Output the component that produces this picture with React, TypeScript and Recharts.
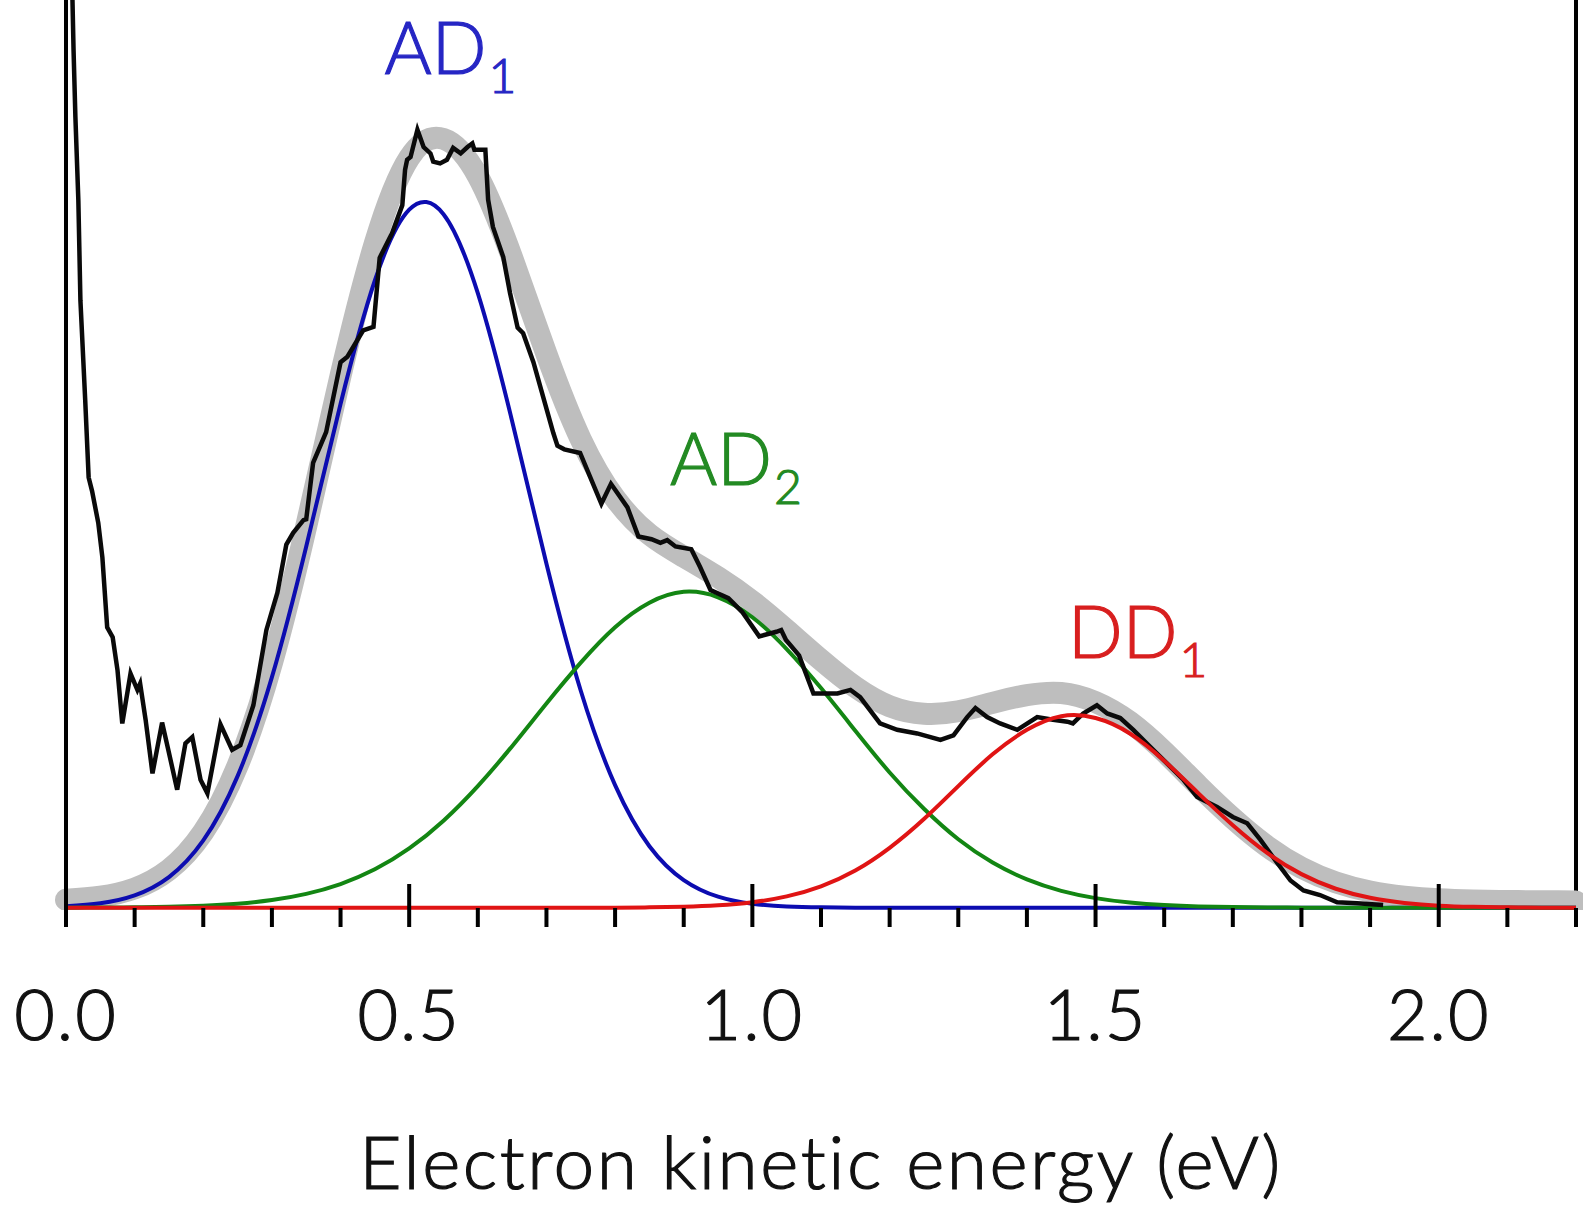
import { Line, LineChart, ReferenceDot, ReferenceLine, XAxis, YAxis } from "recharts";

// fit grid, eV
const fitEnergy = [
  0, 0.05, 0.1, 0.15, 0.2, 0.25, 0.3, 0.35, 0.4, 0.45, 0.5, 0.55, 0.6, 0.65, 0.7,
  0.75, 0.8, 0.85, 0.9, 0.95, 1.0, 1.05, 1.1, 1.15, 1.2, 1.25, 1.3, 1.35, 1.4, 1.45,
  1.5, 1.55, 1.6, 1.65, 1.7, 1.75, 1.8, 1.85, 1.9, 1.95, 2.0, 2.05, 2.1, 2.15, 2.2,
];

const ad1Fit = [
  0.16, 0.5, 1.37, 3.38, 7.41, 14.5, 25.4, 39.8, 55.5, 69.1, 76.9, 76.4, 67.7, 53.6, 37.9,
  23.9, 13.5, 6.78, 3.05, 1.22, 0.44, 0.14, 0.04, 0.01, 0, 0, 0, 0, 0, 0,
  0, 0, 0, 0, 0, 0, 0, 0, 0, 0, 0, 0, 0, 0, 0,
];

const ad2Fit = [
  0.01, 0.02, 0.05, 0.11, 0.23, 0.45, 0.85, 1.53, 2.61, 4.23, 6.53, 9.59, 13.4, 17.8, 22.5,
  27.0, 30.9, 33.6, 34.8, 34.2, 32.0, 28.5, 24.2, 19.5, 14.9, 10.9, 7.54, 4.98, 3.12, 1.86,
  1.06, 0.57, 0.29, 0.14, 0.07, 0.03, 0.01, 0, 0, 0, 0, 0, 0, 0, 0,
];

const dd1Fit = [
  0, 0, 0, 0, 0, 0, 0, 0, 0, 0, 0, 0, 0, 0, 0,
  0, 0, 0.04, 0.12, 0.28, 0.61, 1.25, 2.36, 4.1, 6.6, 9.77, 13.4, 16.9, 19.6, 21.1,
  20.9, 19.2, 16.2, 12.6, 9.09, 6.04, 3.7, 2.09, 1.09, 0.53, 0.23, 0.1, 0.04, 0.01, 0,
];

const totalFit = [
  0.87, 1.22, 2.12, 4.19, 8.34, 15.65, 26.95, 42.03, 58.6, 73.2, 82.6, 84.7, 80.6, 71.6, 61.0,
  51.6, 45.1, 41.12, 38.67, 36.4, 33.75, 30.59, 27.3, 24.31, 22.2, 21.37, 21.64, 22.58, 23.42, 23.66,
  22.66, 20.47, 17.19, 13.44, 9.86, 6.77, 4.41, 2.79, 1.79, 1.23, 0.93, 0.8, 0.74, 0.71, 0.7,
];

// measured spectrum
const sigEnergy = [
  0.004, 0.008, 0.011, 0.0137, 0.018, 0.021, 0.028, 0.033, 0.038, 0.047, 0.053, 0.06, 0.068, 0.075, 0.082,
  0.094, 0.104, 0.108, 0.116, 0.126, 0.14, 0.149, 0.162, 0.174, 0.184, 0.196, 0.206, 0.225, 0.242, 0.254,
  0.273, 0.292, 0.308, 0.321, 0.331, 0.346, 0.35, 0.36, 0.379, 0.4, 0.41, 0.433, 0.448, 0.457, 0.475,
  0.49, 0.494, 0.497, 0.502, 0.512, 0.521, 0.531, 0.535, 0.545, 0.555, 0.564, 0.575, 0.585, 0.592, 0.595,
  0.611, 0.615, 0.622, 0.637, 0.647, 0.658, 0.666, 0.681, 0.71, 0.716, 0.726, 0.749, 0.78, 0.794, 0.818,
  0.834, 0.853, 0.866, 0.876, 0.888, 0.911, 0.924, 0.939, 0.965, 0.985, 1.01, 1.035, 1.042, 1.049, 1.068,
  1.089, 1.124, 1.143, 1.157, 1.186, 1.211, 1.24, 1.274, 1.293, 1.313, 1.325, 1.342, 1.361, 1.386, 1.415,
  1.438, 1.459, 1.467, 1.482, 1.502, 1.517, 1.536, 1.555, 1.58, 1.604, 1.628, 1.648, 1.677, 1.7, 1.721,
  1.74, 1.765, 1.784, 1.803, 1.827, 1.852, 1.881, 1.919,
];

const sigCounts = [
  105, 105, 94.5, 87.1, 77.9, 66.9, 55.9, 47.4, 45.9, 42.4, 38.6, 30.9, 29.8, 26.2, 20.3,
  25.8, 24.0, 24.7, 20.7, 14.8, 20.4, 17.4, 13.0, 18.1, 18.8, 14.1, 12.6, 20.2, 17.4, 17.9,
  22.3, 30.6, 34.7, 40.0, 41.3, 42.7, 42.8, 49.0, 52.4, 60.1, 60.7, 63.6, 64.0, 71.6, 74.3,
  77.4, 81.3, 82.4, 82.7, 85.7, 83.8, 83.1, 82.2, 82.0, 82.4, 83.7, 83.1, 83.8, 84.2, 83.5,
  83.5, 78.0, 75.0, 71.7, 67.7, 63.9, 63.3, 60.1, 52.3, 50.9, 50.5, 50.1, 44.5, 46.7, 44.1,
  40.9, 40.6, 40.2, 40.5, 39.8, 39.5, 37.5, 35.0, 34.1, 32.6, 29.9, 30.4, 30.6, 29.5, 27.8,
  23.6, 23.6, 24.0, 23.2, 20.3, 19.6, 19.2, 18.5, 19.0, 21.0, 22.0, 21.0, 20.3, 19.6, 21.0,
  20.7, 20.5, 20.3, 21.4, 22.3, 21.4, 20.9, 19.6, 17.7, 15.9, 14.1, 12.2, 11.1, 10.0, 9.3,
  7.5, 4.9, 3.0, 1.9, 1.4, 0.6, 0.5, 0.3,
];

const xTicks = [
  0, 0.1, 0.2, 0.3, 0.4, 0.5, 0.6, 0.7, 0.8, 0.9, 1.0, 1.1,
  1.2, 1.3, 1.4, 1.5, 1.6, 1.7, 1.8, 1.9, 2.0, 2.1, 2.2,
];
const majorTicks = [0, 0.5, 1.0, 1.5, 2.0];

const peakLabels = [
  { name: "AD", sub: "1", x: 0.464, y: 91.8, color: "#2626c4" },
  { name: "AD", sub: "2", x: 0.88, y: 46.6, color: "#238a23" },
  { name: "DD", sub: "1", x: 1.46, y: 27.5, color: "#d81f1f" },
];

const fitRows = fitEnergy.map((x, i) => ({
  x,
  ad1: ad1Fit[i],
  ad2: ad2Fit[i],
  dd1: dd1Fit[i],
  total: totalFit[i],
}));
const sigRows = sigEnergy.map((x, i) => ({ x, counts: sigCounts[i] }));

const FONT = "Lato, 'Open Sans', sans-serif";

function EnergyTick({ x, y, payload }: any) {
  const v = payload.value;
  const major = majorTicks.some((m) => Math.abs(m - v) < 1e-6);
  return (
    <g>
      <line
        x1={x}
        x2={x}
        y1={major ? y - 26 : y - 2}
        y2={y + 17}
        stroke="#000"
        strokeWidth={4}
      />
      {major && (
        <text
          x={x}
          y={y + 130}
          textAnchor="middle"
          fontFamily={FONT}
          fontWeight={300}
          fontSize={70}
          letterSpacing={2}
          fill="#111"
          stroke="#111"
          strokeWidth={1.2}
        >
          {v.toFixed(1)}
        </text>
      )}
    </g>
  );
}

function PeakLabel({ cx, cy, label }: any) {
  return (
    <text
      x={cx}
      y={cy}
      fontFamily={FONT}
      fontWeight={300}
      fontSize={72}
      fill={label.color}
      stroke={label.color}
      strokeWidth={1.2}
    >
      {label.name}
      <tspan fontSize={48} dy={19} dx={2}>
        {label.sub}
      </tspan>
    </text>
  );
}

export default function App() {
  return (
    <div style={{ position: "absolute", left: 0, top: 0, background: "#fff" }}>
      <LineChart width={1583} height={1206} margin={{ top: 0, right: 7, bottom: 0, left: 66 }}>
        <XAxis
          dataKey="x"
          type="number"
          domain={[0, 2.2]}
          ticks={xTicks}
          interval={0}
          axisLine={false}
          tickLine={false}
          tickSize={0}
          tickMargin={0}
          height={296}
          tick={<EnergyTick />}
          label={{
            content: (props: any) => {
              const vb = props.viewBox;
              return (
                <text
                  x={vb.x + vb.width / 2}
                  y={vb.y + 279}
                  textAnchor="middle"
                  fontFamily={FONT}
                  fontWeight={300}
                  fontSize={73}
                  letterSpacing={2.5}
                  fill="#111"
                  stroke="#111"
                  strokeWidth={1.2}
                >
                  Electron kinetic energy (eV)
                </text>
              );
            },
          }}
        />
        <YAxis type="number" domain={[-0.25, 100]} allowDataOverflow width={0} hide />
        <ReferenceLine x={0} stroke="#000" strokeWidth={4} />
        <ReferenceLine x={2.2} stroke="#000" strokeWidth={4} />
        <Line
          data={fitRows}
          dataKey="total"
          type="natural"
          stroke="#bebebe"
          strokeWidth={22}
          strokeLinecap="round"
          dot={false}
          isAnimationActive={false}
        />
        <Line
          data={fitRows}
          dataKey="ad1"
          type="natural"
          stroke="#0c0cb0"
          strokeWidth={4}
          dot={false}
          isAnimationActive={false}
        />
        <Line
          data={fitRows}
          dataKey="ad2"
          type="natural"
          stroke="#138613"
          strokeWidth={4}
          dot={false}
          isAnimationActive={false}
        />
        <Line
          data={sigRows}
          dataKey="counts"
          type="linear"
          stroke="#0a0a0a"
          strokeWidth={4.5}
          dot={false}
          isAnimationActive={false}
        />
        <Line
          data={fitRows}
          dataKey="dd1"
          type="natural"
          stroke="#e01414"
          strokeWidth={4}
          dot={false}
          isAnimationActive={false}
        />
        {peakLabels.map((l) => (
          <ReferenceDot
            key={l.name + l.sub}
            x={l.x}
            y={l.y}
            r={0}
            shape={(p: any) => <PeakLabel {...p} label={l} />}
          />
        ))}
      </LineChart>
    </div>
  );
}
